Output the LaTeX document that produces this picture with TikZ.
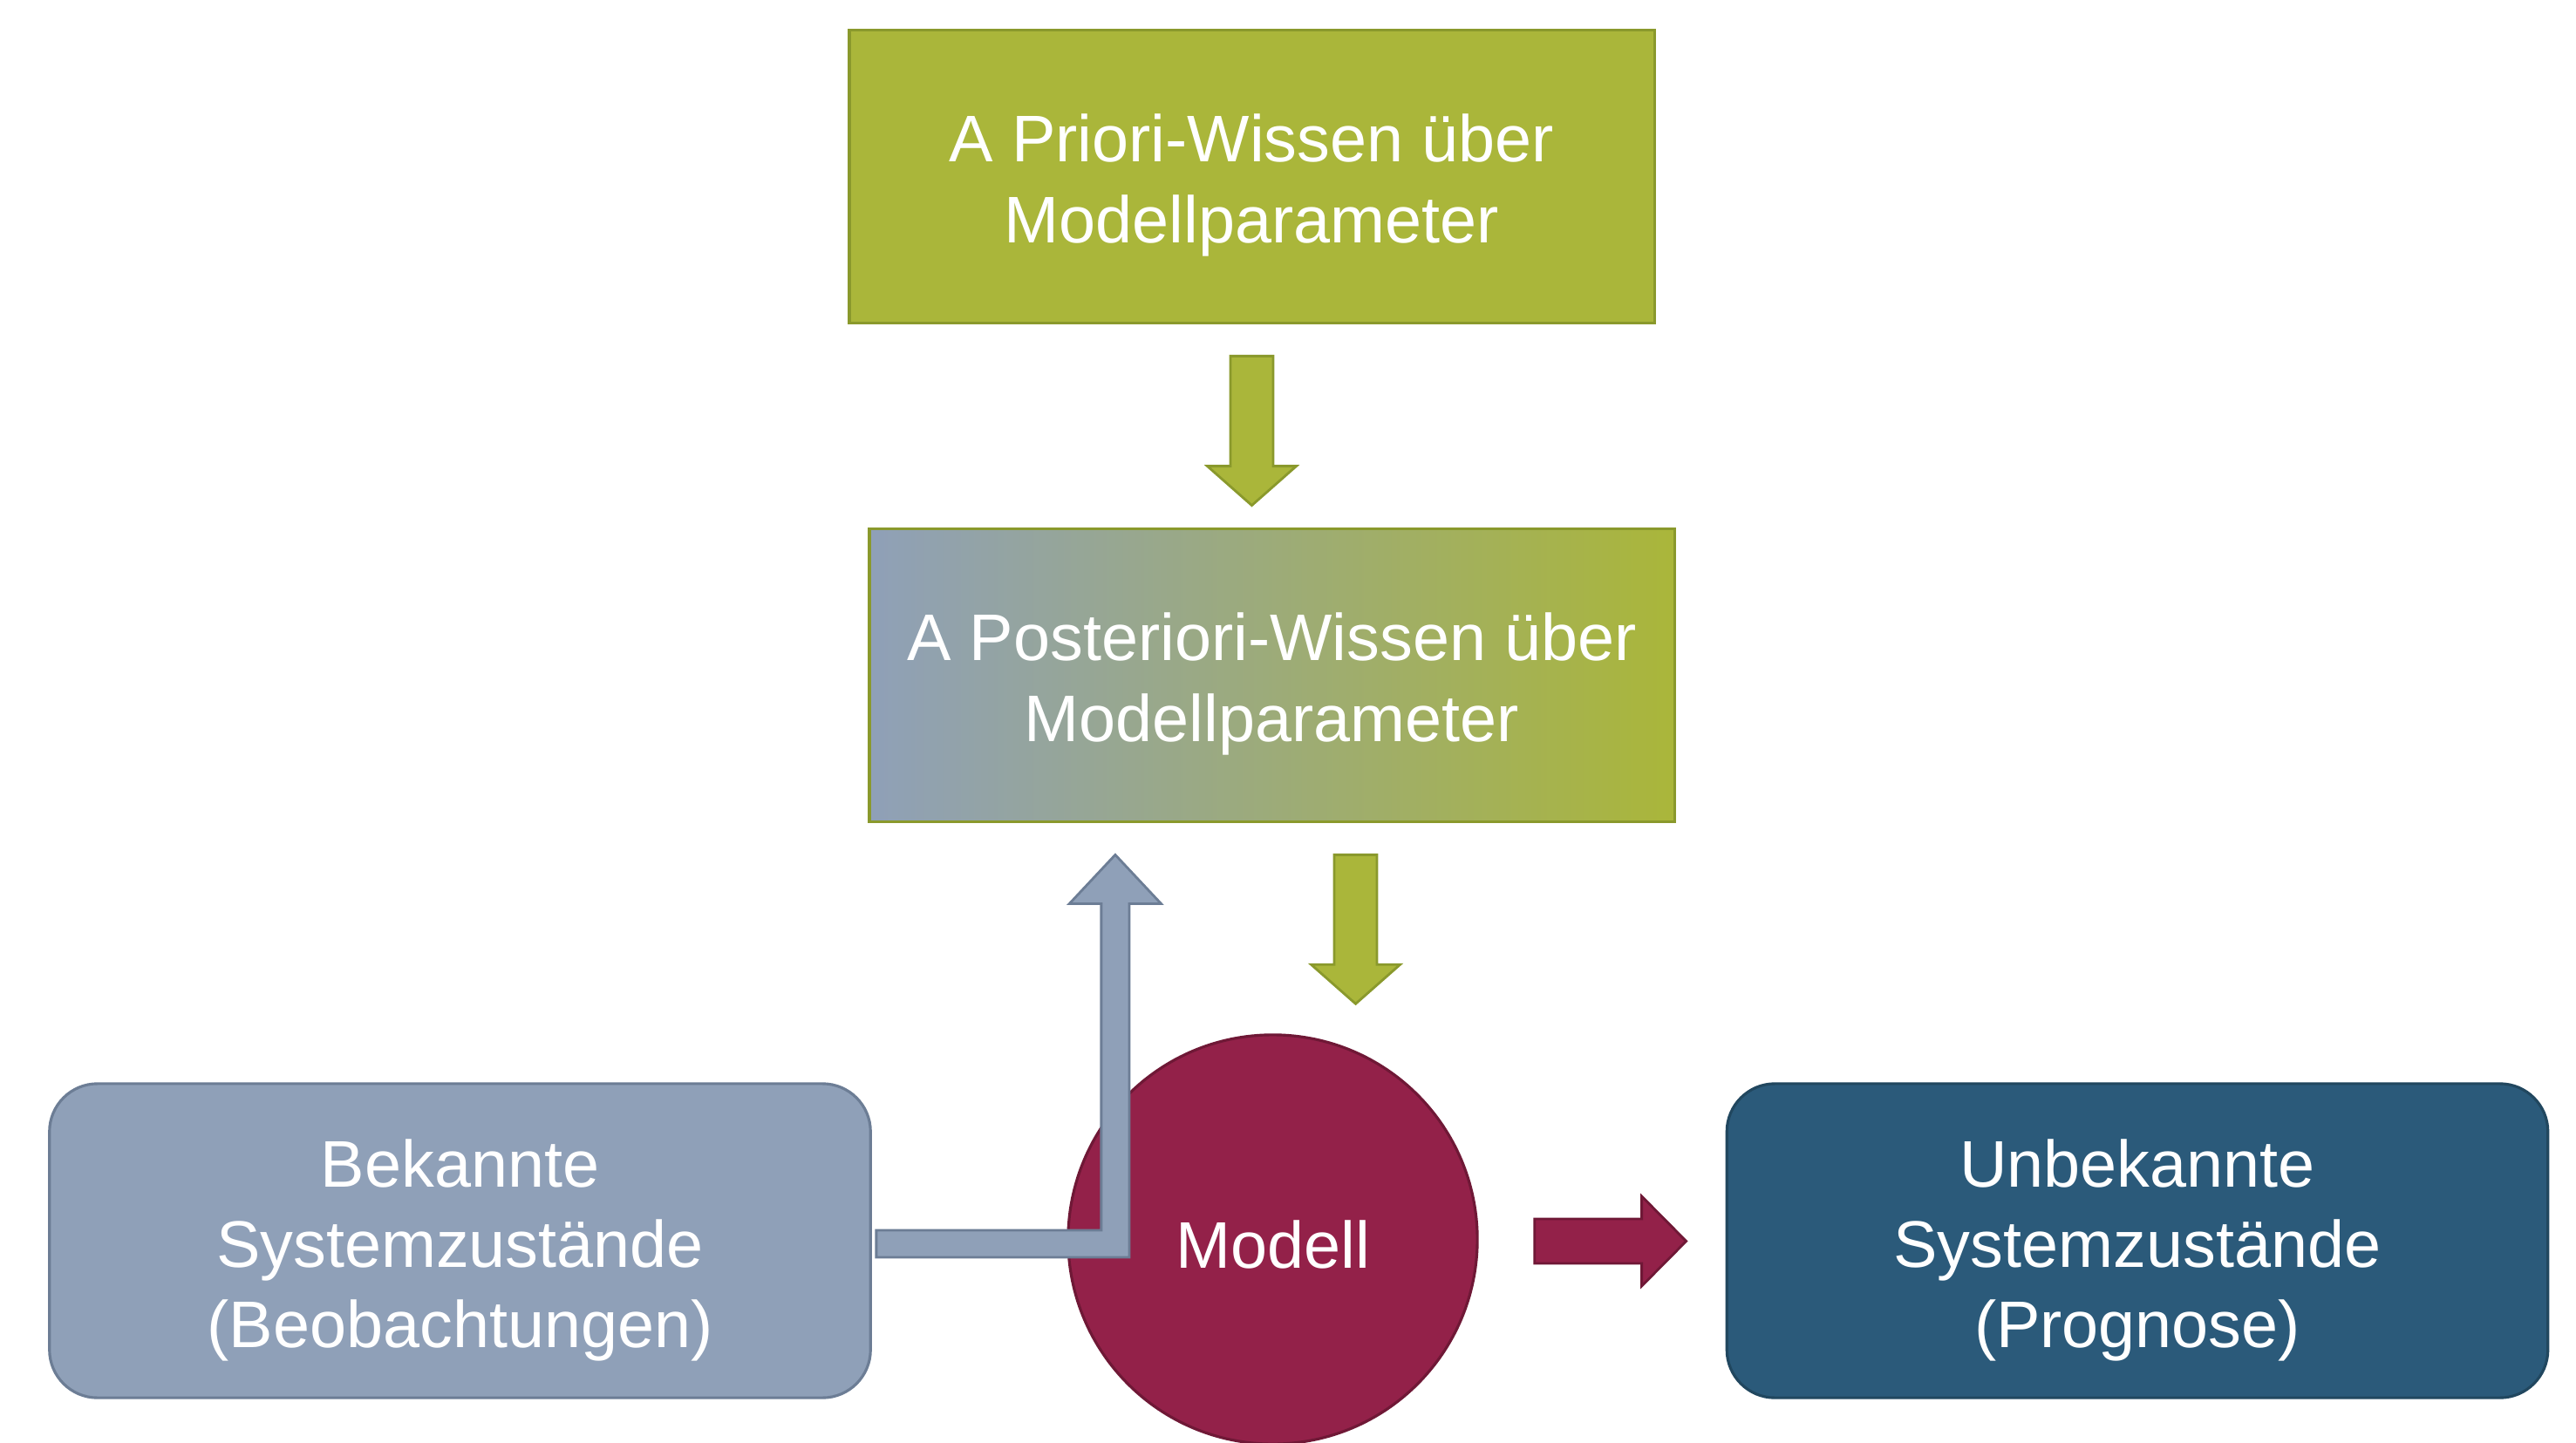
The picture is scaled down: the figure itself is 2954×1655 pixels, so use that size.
\documentclass[tikz,border=0pt]{standalone}
\usepackage{fontspec}
\setmainfont{Liberation Sans}
\usetikzlibrary{calc}

\definecolor{olivegreen}{HTML}{AAB63A}
\definecolor{olivedark}{HTML}{8A992C}
\definecolor{slateblue}{HTML}{8FA0B8}
\definecolor{slatedark}{HTML}{6C7D95}
\definecolor{petrol}{HTML}{2B5A7A}
\definecolor{petroldark}{HTML}{21475F}
\definecolor{wine}{HTML}{932149}
\definecolor{winedark}{HTML}{6F1836}

\tikzset{
  lbl/.style={text=white, font=\fontsize{21.5}{26.2}\selectfont, align=center, inner sep=0pt},
  knowbox/.style={rectangle, draw=olivedark, line width=1pt,
    minimum width=9.23cm, minimum height=3.36cm, inner sep=0pt},
  statebox/.style={rectangle, rounded corners=0.55cm, line width=0.9pt,
    minimum width=9.41cm, minimum height=3.6cm, inner sep=0pt},
  modelnode/.style={circle, fill=wine, draw=winedark, line width=0.9pt,
    minimum size=4.69cm, inner sep=0pt},
  greenarrow/.style={fill=olivegreen, draw=olivedark, line width=0.8pt, line join=miter},
  bluearrow/.style={fill=slateblue, draw=slatedark, line width=0.8pt, line join=miter},
  winearrow/.style={fill=wine, draw=winedark, line width=0.8pt, line join=miter},
}

% block arrow pointing down: style, start (top of shaft), end (tip)
\newcommand\downblock[3]{%
  \draw[#1] let \p1=(#2), \p2=(#3) in
    (\x1-0.245cm,\y1) -- (\x1+0.245cm,\y1) -- (\x1+0.245cm,\y2+0.45cm)
    -- (\x1+0.51cm,\y2+0.45cm) -- (\x1,\y2) -- (\x1-0.51cm,\y2+0.45cm)
    -- (\x1-0.245cm,\y2+0.45cm) -- cycle;}

\begin{document}
\begin{tikzpicture}[x=0.01cm,y=-0.01cm]
  \useasboundingbox (0,0) rectangle (2954,1655);

  % knowledge boxes
  \node[knowbox, fill=olivegreen] (prior) at (1435.5,202.5) {};
  \node[lbl] (priortext) at ($(prior.center)+(0,-0.1cm)$)
    {A Priori-Wissen über\\Modellparameter};
  \node[knowbox, left color=slateblue, right color=olivegreen] (post) at (1458.5,774.5) {};
  \node[lbl] (posttext) at ($(post.center)+(0,-0.1cm)$)
    {A Posteriori-Wissen über\\Modellparameter};

  % system states and model
  \node[statebox, fill=slateblue, draw=slatedark] (obs) at (527.5,1423) {};
  \node[lbl] (obstext) at ($(obs.center)+(0,-0.11cm)$)
    {Bekannte\\Systemzustände\\(Beobachtungen)};
  \node[statebox, fill=petrol, draw=petroldark] (pred) at (2451,1423) {};
  \node[lbl] (predtext) at ($(pred.center)+(0,-0.11cm)$)
    {Unbekannte\\Systemzustände\\(Prognose)};
  \node[modelnode] (model) at (1459.5,1421.5) {};
  \node[lbl] (modeltext) at ($(model.center)+(0,-0.06cm)$) {Modell};

  % prior -> posterior
  \coordinate (a1s) at ($(prior.south)+(0,-0.36cm)$);
  \coordinate (a1e) at ($(post.north)+(0,0.25cm)$);
  \downblock{greenarrow}{a1s}{a1e}

  % posterior -> model
  \coordinate (a2s) at ($(post.south)+(0.96cm,-0.36cm)$);
  \coordinate (a2e) at ($(model.north)+(0.95cm,0.34cm)$);
  \downblock{greenarrow}{a2s}{a2e}

  % observations -> posterior (bent arrow)
  \coordinate (b1s) at ($(obs.east)+(0.05cm,-0.035cm)$);
  \coordinate (b1e) at ($(post.south)+(-1.795cm,-0.36cm)$);
  \draw[bluearrow] let \p1=(b1s), \p2=(b1e) in
    (\x1,\y1+0.155cm) -- (\x2-0.16cm,\y1+0.155cm) -- (\x2-0.16cm,\y2-0.56cm)
    -- (\x2-0.525cm,\y2-0.56cm) -- (\x2,\y2) -- (\x2+0.525cm,\y2-0.56cm)
    -- (\x2+0.16cm,\y2-0.56cm) -- (\x2+0.16cm,\y1-0.155cm)
    -- (\x1,\y1-0.155cm) -- cycle;

  % model -> prediction
  \coordinate (r1s) at ($(model.east)+(0.64cm,-0.02cm)$);
  \coordinate (r1e) at ($(pred.west)+(-0.45cm,0)$);
  \draw[winearrow] let \p1=(r1s), \p2=(r1e) in
    (\x1,\y1+0.255cm) -- (\x2-0.51cm,\y1+0.255cm) -- (\x2-0.51cm,\y1+0.515cm)
    -- (\x2,\y1) -- (\x2-0.51cm,\y1-0.515cm) -- (\x2-0.51cm,\y1-0.255cm)
    -- (\x1,\y1-0.255cm) -- cycle;
\end{tikzpicture}
\end{document}
